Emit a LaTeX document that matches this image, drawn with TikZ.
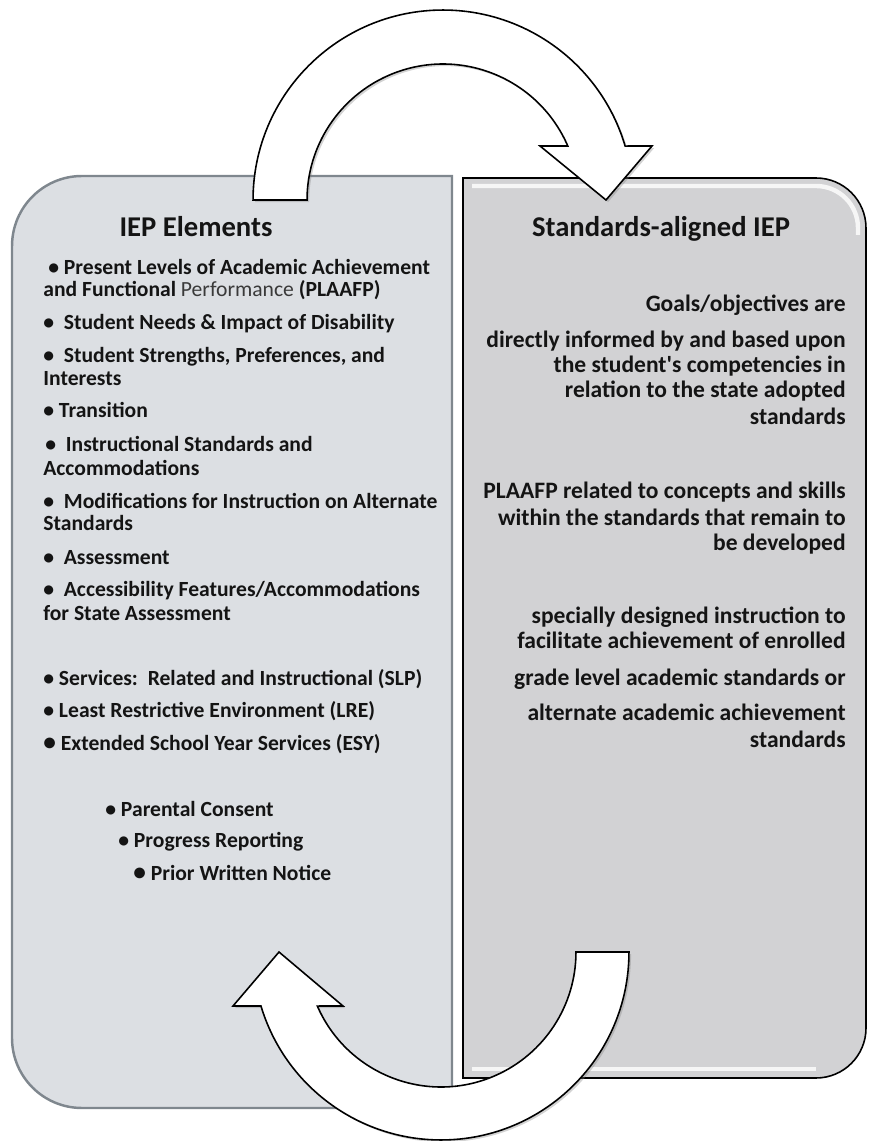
\documentclass[tikz,border=0pt]{standalone}
\usepackage{fontspec}
\setmainfont{Carlito}
\usepackage{tikz}
\usetikzlibrary{shadows}

\definecolor{leftfill}{HTML}{DCDFE3}
\definecolor{leftline}{HTML}{7F878E}
\definecolor{rightfill}{HTML}{D2D2D4}
\definecolor{txt}{HTML}{141414}
\definecolor{perf}{HTML}{3A3A3A}

\tikzset{
  elem/.style={anchor=base west, inner sep=0pt, text=txt, font=\bfseries\fontsize{12.3}{14}\selectfont},
  goal/.style={anchor=base east, inner sep=0pt, text=txt, font=\bfseries\fontsize{13.4}{15}\selectfont},
  heading/.style={anchor=base, inner sep=0pt, text=txt, font=\bfseries\fontsize{16.3}{19}\selectfont},
  bigarrow/.style={draw=black, line width=0.9pt, fill=white,
    drop shadow={opacity=0.35, shadow xshift=1.2pt, shadow yshift=-1.2pt}},
}

\begin{document}
\begin{tikzpicture}[x=0.02cm, y=0.02cm]
    \useasboundingbox (0,0) rectangle (868,-1141);

    % the two panels
    \draw[leftline, fill=leftfill, line width=1.4pt] (452,-176) -- (82,-176)
        arc[start angle=90, end angle=180, radius=1.4cm] -- (12,-1038)
        arc[start angle=180, end angle=270, radius=1.4cm] -- (452,-1108) -- cycle;
    \draw[black, fill=rightfill, line width=0.9pt] (463,-178) -- (816,-178)
        arc[start angle=90, end angle=0, radius=1cm] -- (866,-1028)
        arc[start angle=0, end angle=-90, radius=1cm] -- (463,-1078) -- cycle;
    \draw[white, line width=2.5pt, opacity=0.8] (472,-186) -- (816,-186)
        arc[start angle=90, end angle=0, radius=0.84cm] -- (858,-235);
    \draw[white, line width=2.5pt, opacity=0.8] (472,-1069) -- (816,-1069);

    \coordinate (tc) at (443,-200);
    \coordinate (bc) at (441,-952);

    % upper arrow
    \draw[bigarrow] ([shift={(180:2.72cm)}]tc) -- ([shift={(180:3.8cm)}]tc)
        arc[start angle=180, end angle=16.5, radius=3.8cm]
        -- ([shift={(209,54)}]tc) -- ([shift={(163,0)}]tc) -- ([shift={(97,54)}]tc)
        -- ([shift={(23.4:2.72cm)}]tc)
        arc[start angle=23.4, end angle=180, radius=2.72cm] -- cycle;

    % lower arrow
    \draw[bigarrow] ([shift={(0:2.7cm)}]bc) -- ([shift={(0:3.76cm)}]bc)
        arc[start angle=0, end angle=-163.3, radius=3.76cm]
        -- ([shift={(-208,-54)}]bc) -- ([shift={(-162,0)}]bc) -- ([shift={(-98,-54)}]bc)
        -- ([shift={(-156.4:2.7cm)}]bc)
        arc[start angle=-156.4, end angle=0, radius=2.7cm] -- cycle;

    % left panel
    \node[heading] (lhead) at (196,-237) {IEP Elements};
    \node[elem] (e1) at (48,-275) {\textbullet\ Present Levels of Academic Achievement};
    \node[elem] (e2) at (43,-297) {and Functional {\mdseries\color{perf}Performance} (PLAAFP)};
    \node[elem] (e3) at (43,-330) {\textbullet\ \ Student Needs \& Impact of Disability};
    \node[elem] (e4) at (43,-363) {\textbullet\ \ Student Strengths, Preferences, and};
    \node[elem] (e5) at (43,-386) {Interests};
    \node[elem] (e6) at (43,-418) {\textbullet\ Transition};
    \node[elem] (e7) at (45,-451) {\textbullet\ \ Instructional Standards and};
    \node[elem] (e8) at (43,-475) {Accommodations};
    \node[elem] (e9) at (43,-508) {\textbullet\ \ Modifications for Instruction on Alternate};
    \node[elem] (e10) at (43,-530) {Standards};
    \node[elem] (e11) at (43,-564) {\textbullet\ \ Assessment};
    \node[elem] (e12) at (43,-596) {\textbullet\ \ Accessibility Features/Accommodations};
    \node[elem] (e13) at (43,-620) {for State Assessment};
    \node[elem] (e14) at (43,-685) {\textbullet\ Services:\ \ Related and Instructional (SLP)};
    \node[elem] (e15) at (43,-717) {\textbullet\ Least Restrictive Environment (LRE)};
    \node[elem] (e16) at (43,-750) {{\Large\textbullet}\ Extended School Year Services (ESY)};
    \node[elem] (e17) at (105,-816) {\textbullet\ Parental Consent};
    \node[elem] (e18) at (118,-847) {\textbullet\ Progress Reporting};
    \node[elem] (e19) at (133,-880) {{\Large\textbullet}\ Prior Written Notice};

    % right panel
    \node[heading] (rhead) at (661,-237) {Standards-aligned IEP};
    \node[goal] (g1) at (846,-312) {Goals/objectives are};
    \node[goal] (g2) at (846,-348) {directly informed by and based upon};
    \node[goal] (g3) at (846,-373) {the student\textquotesingle s competencies in};
    \node[goal] (g4) at (846,-398) {relation to the state adopted};
    \node[goal] (g5) at (846,-425) {standards};
    \node[goal] (g6) at (846,-498) {PLAAFP related to concepts and skills};
    \node[goal] (g7) at (846,-525) {within the standards that remain to};
    \node[goal] (g8) at (846,-550) {be developed};
    \node[goal] (g9) at (846,-623) {specially designed instruction to};
    \node[goal] (g10) at (846,-648) {facilitate achievement of enrolled};
    \node[goal] (g11) at (846,-685) {grade level academic standards or};
    \node[goal] (g12) at (846,-720) {alternate academic achievement};
    \node[goal] (g13) at (846,-747) {standards};
\end{tikzpicture}
\end{document}
